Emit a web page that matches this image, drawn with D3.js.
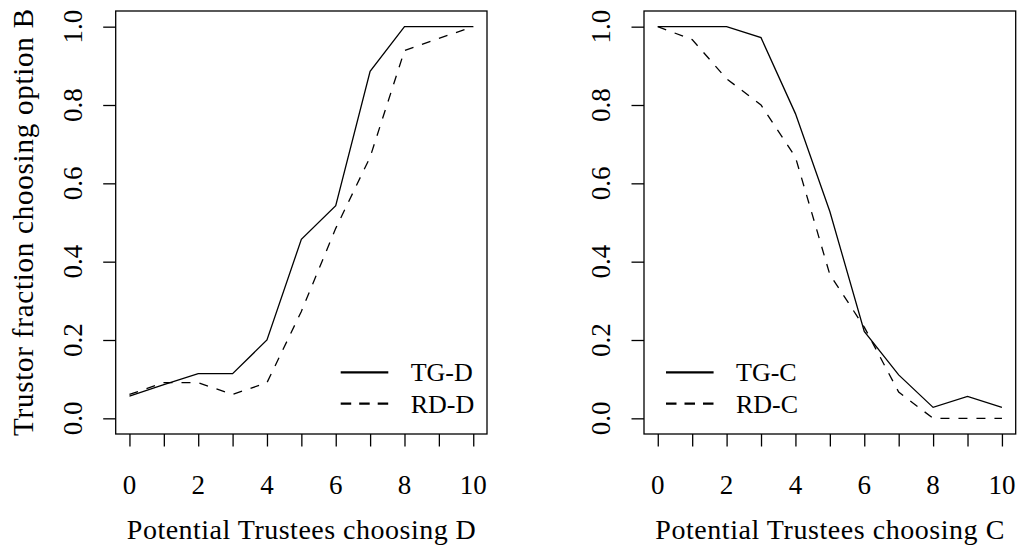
<!DOCTYPE html>
<html>
<head>
<meta charset="utf-8">
<script src="https://cdn.jsdelivr.net/npm/d3@7"></script>
<style>
  html, body { margin: 0; padding: 0; background: #fff; }
  svg { display: block; }
</style>
</head>
<body>
<svg id="chart" width="1026" height="550"></svg>
<script>
// Number of potential trustees choosing the option (x axis)
const trustees = [0, 1, 2, 3, 4, 5, 6, 7, 8, 9, 10];

// Trustor fraction choosing option B, defection panel
const tgD = [0.057, 0.086, 0.114, 0.114, 0.200, 0.457, 0.543, 0.886, 1.000, 1.000, 1.000];
const rdD = [0.061, 0.091, 0.091, 0.061, 0.091, 0.273, 0.485, 0.667, 0.939, 0.970, 1.000];

// Trustor fraction choosing option B, cooperation panel
const tgC = [1.000, 1.000, 1.000, 0.972, 0.778, 0.528, 0.222, 0.111, 0.028, 0.056, 0.028];
const rdC = [1.000, 0.967, 0.867, 0.800, 0.667, 0.367, 0.233, 0.067, 0.000, 0.000, 0.000];

const yTicks = [0, 0.2, 0.4, 0.6, 0.8, 1.0];
const xLabelTicks = [0, 2, 4, 6, 8, 10];

const FONT = "Liberation Serif";

const panels = [
  { left: 115.7, right: 487, xTitle: "Potential Trustees choosing D",
    series: [{ name: "TG-D", values: tgD, dashed: false }, { name: "RD-D", values: rdD, dashed: true }],
    legendX: 340.7, showYTitle: true },
  { left: 644, right: 1015.7, xTitle: "Potential Trustees choosing C",
    series: [{ name: "TG-C", values: tgC, dashed: false }, { name: "RD-C", values: rdC, dashed: true }],
    legendX: 666, showYTitle: false }
];

const plotTop = 11, plotBottom = 434;
const svg = d3.select("#chart");

panels.forEach(p => {
  const x = d3.scaleLinear().domain([-0.4, 10.4]).range([p.left, p.right]);
  const y = d3.scaleLinear().domain([-0.04, 1.04]).range([plotBottom, plotTop]);
  const g = svg.append("g");

  // x axis: ticks at every count, labels on even counts
  const xAxis = g.append("g")
    .attr("transform", `translate(0,${plotBottom})`)
    .call(d3.axisBottom(x).tickValues(trustees).tickSize(12.5).tickSizeOuter(0).tickFormat(() => ""));
  xAxis.select(".domain").remove();
  xAxis.selectAll(".tick line").attr("stroke", "#000").attr("stroke-width", 1.3);

  g.selectAll(".xlab").data(xLabelTicks).join("text")
    .attr("class", "xlab")
    .attr("x", d => x(d))
    .attr("y", 494)
    .attr("text-anchor", "middle")
    .attr("font-family", FONT)
    .attr("font-size", 27)
    .text(d => d);

  // y axis: ticks on the left with rotated labels
  const yAxis = g.append("g")
    .attr("transform", `translate(${p.left},0)`)
    .call(d3.axisLeft(y).tickValues(yTicks).tickSize(12.5).tickSizeOuter(0).tickFormat(() => ""));
  yAxis.select(".domain").remove();
  yAxis.selectAll(".tick line").attr("stroke", "#000").attr("stroke-width", 1.3);

  g.selectAll(".ylab").data(yTicks).join("text")
    .attr("class", "ylab")
    .attr("transform", d => `translate(${p.left - 34},${y(d)}) rotate(-90)`)
    .attr("text-anchor", "middle")
    .attr("font-family", FONT)
    .attr("font-size", 27)
    .text(d => d3.format(".1f")(d));

  // plot frame
  g.append("rect")
    .attr("x", p.left).attr("y", plotTop)
    .attr("width", p.right - p.left).attr("height", plotBottom - plotTop)
    .attr("fill", "none").attr("stroke", "#000").attr("stroke-width", 1.3);

  // series lines
  const line = d3.line().x((d, i) => x(trustees[i])).y(d => y(d));
  p.series.forEach(s => {
    g.append("path")
      .datum(s.values)
      .attr("d", line)
      .attr("fill", "none")
      .attr("stroke", "#000")
      .attr("stroke-width", 1.3)
      .attr("stroke-dasharray", s.dashed ? "9,9" : null);
  });

  // legend
  const legY = [372.3, 403.7];
  p.series.forEach((s, i) => {
    g.append("line")
      .attr("x1", p.legendX).attr("x2", p.legendX + 47.6)
      .attr("y1", legY[i]).attr("y2", legY[i])
      .attr("stroke", "#000").attr("stroke-width", 2.2)
      .attr("stroke-dasharray", s.dashed ? "10.5,8" : null);
    g.append("text")
      .attr("x", p.legendX + 70)
      .attr("y", legY[i] + 9)
      .attr("font-family", FONT)
      .attr("font-size", 26)
      .text(s.name);
  });

  // x axis title
  g.append("text")
    .attr("x", (x(0) + x(10)) / 2)
    .attr("y", 539)
    .attr("text-anchor", "middle")
    .attr("textLength", 349)
    .attr("lengthAdjust", "spacing")
    .attr("font-family", FONT)
    .attr("font-size", 28)
    .text(p.xTitle);

  if (p.showYTitle) {
    g.append("text")
      .attr("transform", `translate(33,${(plotTop + plotBottom) / 2}) rotate(-90)`)
      .attr("text-anchor", "middle")
      .attr("textLength", 427)
      .attr("lengthAdjust", "spacing")
      .attr("font-family", FONT)
      .attr("font-size", 29)
      .text("Trustor fraction choosing option B");
  }
});
</script>
</body>
</html>
